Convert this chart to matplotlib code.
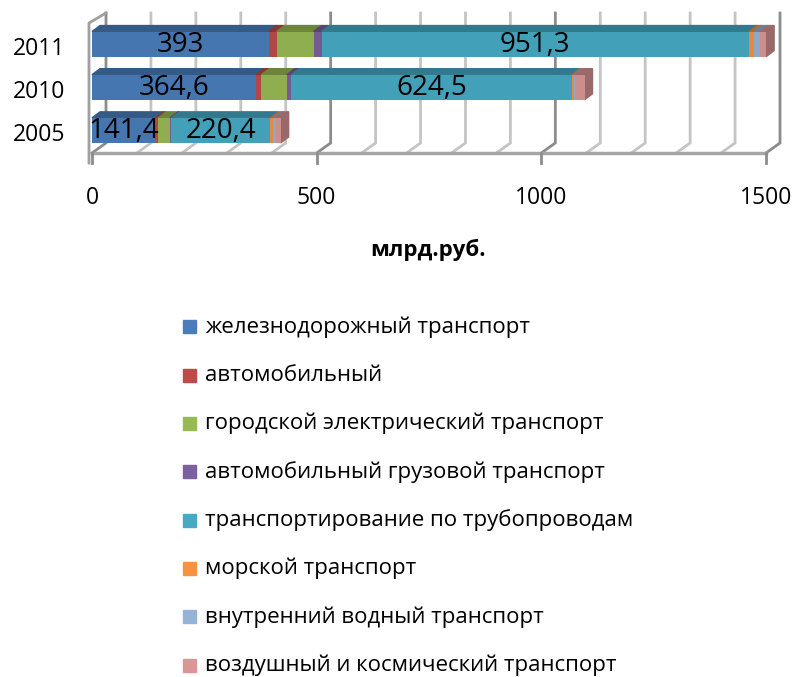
import numpy as np
import matplotlib
matplotlib.use('Agg')
from matplotlib import pyplot as plt
from matplotlib.patches import Polygon, Rectangle
from matplotlib import colors as mcolors

plt.rcParams['font.family'] = ['Open Sans', 'DejaVu Sans']

years = ['2005', '2010', '2011']
series_names = [
    'железнодорожный транспорт',
    'автомобильный',
    'городской электрический транспорт',
    'автомобильный грузовой транспорт',
    'транспортирование по трубопроводам',
    'морской транспорт',
    'внутренний водный транспорт',
    'воздушный и космический транспорт',
]
rail = [141.4, 364.6, 393]
auto = [6, 12, 18]
city_electric = [26, 57, 82]
freight = [3, 10, 18]
pipeline = [220.4, 624.5, 951.3]
sea = [7, 4, 11]
inland_water = [5, 2, 13]
air_space = [11, 22, 14]
labelled = {0: rail, 4: pipeline}

series = [rail, auto, city_electric, freight, pipeline, sea, inland_water, air_space]
palette = ['#4a7ebb', '#be4b48', '#98b954', '#7d60a0', '#46aac5', '#f69240', '#95b3d7', '#d99694']

W, H = 793, 677
fig = plt.figure(figsize=(W / 100, H / 100), dpi=100)

# plot area: front floor edge at y=153px, wall top at y=13px
x0_px, x1_px = 92, 766
floor_px, top_px = 153, 13
ax = fig.add_axes([x0_px / W, (H - floor_px) / H, (x1_px - x0_px) / W, (floor_px - top_px) / H])
xmax = 1500
cat_px = 43.0
ylo = -22.5 / cat_px
yhi = 2 + 31 / cat_px
ax.set_xlim(0, xmax)
ax.set_ylim(ylo, yhi)
ax.axis('off')

px_x = xmax / (x1_px - x0_px)
wall_dx, wall_dy = 14 * px_x, 10 / cat_px
bar_dx, bar_dy = 8 * px_x, 6 / cat_px
bar_h = 25 / cat_px

# back wall gridlines and floor diagonals
for v in range(0, xmax + 1, 100):
    c = '#8c8c8c' if v % 500 == 0 else '#c4c4c4'
    ax.plot([v, v + wall_dx, v + wall_dx], [ylo, ylo + wall_dy, yhi],
            color=c, lw=2, clip_on=False, zorder=1, solid_joinstyle='miter')
# left wall front edge
ax.plot([-3 * px_x, -3 * px_x, wall_dx], [ylo - 10 / cat_px, yhi - wall_dy, yhi],
        color='#a0a0a0', lw=2, clip_on=False, zorder=1)
# front floor edge and major ticks
ax.plot([0, xmax], [ylo, ylo], color='#a6a6a6', lw=2.5, clip_on=False, zorder=1)
for v in range(0, xmax + 1, 500):
    ax.plot([v, v], [ylo, ylo - 10 / cat_px], color='#8c8c8c', lw=2, clip_on=False, zorder=1)
    ax.text(v, ylo - 45 / cat_px, str(v), ha='center', va='center', fontsize=16.5)

ypos = np.arange(len(years))
left = np.zeros(len(years))
for i, vals in enumerate(series):
    vals = np.asarray(vals, dtype=float)
    face = tuple(c * 0.94 for c in mcolors.to_rgb(palette[i]))
    top = tuple(c * 0.76 for c in face)
    ax.barh(ypos, vals, left=left, height=bar_h, color=face, zorder=3)
    for j in range(len(years)):
        a, b = left[j], left[j] + vals[j]
        yt = ypos[j] + bar_h / 2
        ax.add_patch(Polygon([(a, yt), (b, yt), (b + bar_dx, yt + bar_dy), (a + bar_dx, yt + bar_dy)],
                             closed=True, color=top, zorder=2, clip_on=False))
    if i in labelled:
        for j in range(len(years)):
            ax.text(left[j] + vals[j] / 2, ypos[j] - 1 / cat_px, f'{vals[j]:g}'.replace('.', ','),
                    ha='center', va='center', fontsize=20, zorder=5)
    left = left + vals

# right side faces of each bar
side = tuple(c * 0.7 for c in mcolors.to_rgb(palette[-1]))
for j in range(len(years)):
    r = left[j]
    yb, yt = ypos[j] - bar_h / 2, ypos[j] + bar_h / 2
    ax.add_patch(Polygon([(r, yb), (r, yt), (r + bar_dx, yt + bar_dy), (r + bar_dx, yb + bar_dy)],
                         closed=True, color=side, zorder=2, clip_on=False))

for j, y in enumerate(years):
    ax.text(-27 * px_x, ypos[j] - 5 / cat_px, y, ha='right', va='center', fontsize=16.5)

fig.text(428 / W, 1 - 250 / H, 'млрд.руб.', ha='center', va='center', fontsize=16, fontweight='bold')

# legend
for i, name in enumerate(series_names):
    yc = 327 + i * 48.3
    fig.patches.append(Rectangle((183 / W, 1 - (yc + 6.5) / H), 13 / W, 13 / H,
                                 transform=fig.transFigure, color=palette[i]))
    fig.text(205 / W, 1 - yc / H, name, ha='left', va='center', fontsize=16)

fig.savefig('out.png', dpi=100)
